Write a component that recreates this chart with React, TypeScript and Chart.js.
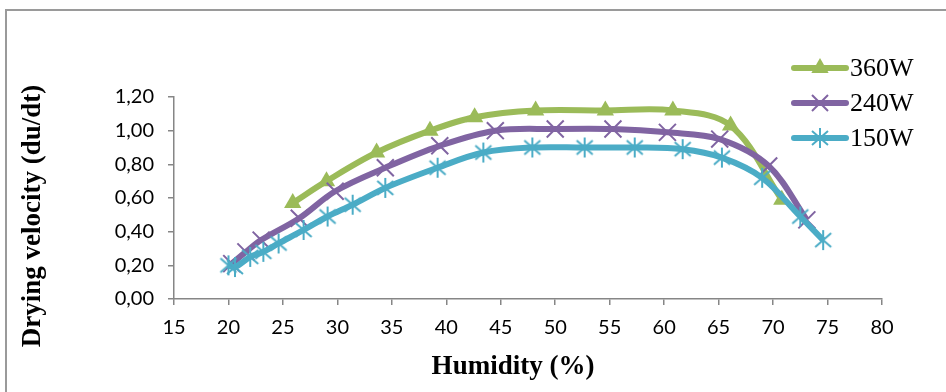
import React, { useEffect, useRef } from 'react';
import { Chart, registerables } from 'chart.js';
Chart.register(...registerables);

// Series: drying velocity vs humidity for three microwave powers
const seriesNames = ['360W', '240W', '150W'];

const humidity360 = [25.9, 29.0, 33.6, 38.5, 42.6, 48.2, 54.6, 60.8, 66.1, 70.8];
const velocity360 = [0.57, 0.70, 0.87, 1.00, 1.08, 1.12, 1.12, 1.12, 1.03, 0.59];

const humidity240 = [20.3, 21.6, 23.0, 26.5, 29.8, 34.4, 39.4, 44.5, 50.0, 55.3, 60.3, 65.1, 69.6, 73.1];
const velocity240 = [0.21, 0.28, 0.35, 0.48, 0.64, 0.78, 0.91, 1.00, 1.01, 1.01, 0.99, 0.95, 0.79, 0.47];

const humidity150 = [20.0, 20.6, 22.0, 23.2, 24.6, 26.9, 29.1, 31.4, 34.4, 39.2, 43.4, 47.9, 52.7, 57.3, 61.7, 65.3, 69.0, 72.5, 74.6];
const velocity150 = [0.20, 0.19, 0.25, 0.28, 0.33, 0.41, 0.49, 0.56, 0.66, 0.78, 0.87, 0.90, 0.90, 0.90, 0.89, 0.84, 0.72, 0.49, 0.35];

const xTitle = 'Humidity (%)';
const yTitle = 'Drying velocity (du/dt)';

const GREEN = '#9BBB59';
const PURPLE = '#8064A2';
const BLUE = '#4BACC6';
const AXIS = '#868686';

function makeAsterisk(color: string): HTMLCanvasElement {
  const c = document.createElement('canvas');
  c.width = 22;
  c.height = 22;
  const g = c.getContext('2d')!;
  g.strokeStyle = color;
  g.lineWidth = 2;
  g.beginPath();
  g.moveTo(11, 1); g.lineTo(11, 21);
  g.moveTo(3, 4); g.lineTo(19, 18);
  g.moveTo(19, 4); g.lineTo(3, 18);
  g.stroke();
  return c;
}

function toPts(xs: number[], ys: number[]) {
  return xs.map((x, i) => ({ x, y: ys[i] }));
}

export default function App() {
  const ref = useRef<HTMLCanvasElement>(null);

  useEffect(() => {
    const canvas = ref.current!;
    const asterisk = makeAsterisk(BLUE);

    const legendPlugin = {
      id: 'customLegendTitles',
      afterDraw(chart: any) {
        const ctx = chart.ctx as CanvasRenderingContext2D;
        ctx.save();
        // axis titles
        ctx.fillStyle = '#000';
        ctx.font = 'bold 27px "Liberation Serif"';
        ctx.textAlign = 'center';
        ctx.textBaseline = 'middle';
        ctx.fillText(xTitle, 513, 367);
        ctx.save();
        ctx.translate(33, 216);
        ctx.rotate(-Math.PI / 2);
        ctx.fillText(yTitle, 0, 0);
        ctx.restore();

        // legend
        const colors = [GREEN, PURPLE, BLUE];
        const ys = [68, 103, 138];
        ctx.font = '26px "Liberation Serif"';
        ctx.textAlign = 'left';
        for (let i = 0; i < 3; i++) {
          const y = ys[i];
          ctx.strokeStyle = colors[i];
          ctx.lineWidth = 6;
          ctx.lineCap = 'round';
          ctx.beginPath();
          ctx.moveTo(794, y);
          ctx.lineTo(846, y);
          ctx.stroke();
          const cx = 820;
          if (i === 0) {
            const r = 10;
            ctx.fillStyle = GREEN;
            ctx.beginPath();
            for (let k = 0; k < 3; k++) {
              const a = (k * 2 * Math.PI) / 3;
              const px = cx + Math.sin(a) * r;
              const py = y - Math.cos(a) * r;
              if (k === 0) ctx.moveTo(px, py); else ctx.lineTo(px, py);
            }
            ctx.closePath();
            ctx.fill();
          } else if (i === 1) {
            ctx.lineWidth = 2;
            ctx.lineCap = 'butt';
            ctx.strokeStyle = PURPLE;
            ctx.beginPath();
            ctx.moveTo(cx - 8, y - 8); ctx.lineTo(cx + 8, y + 8);
            ctx.moveTo(cx + 8, y - 8); ctx.lineTo(cx - 8, y + 8);
            ctx.stroke();
          } else {
            ctx.drawImage(asterisk, cx - 11, y - 11);
          }
          ctx.fillStyle = '#000';
          ctx.fillText(seriesNames[i], 850, y + 1);
        }
        ctx.restore();
      },
    };

    const tickFont = { family: 'Lato', size: 20 };

    const chart = new Chart(canvas, {
      type: 'line',
      data: {
        datasets: [
          {
            label: seriesNames[0],
            data: toPts(humidity360, velocity360),
            borderColor: GREEN,
            backgroundColor: GREEN,
            borderWidth: 6,
            tension: 0.35,
            pointStyle: 'triangle',
            pointRadius: 10,
            pointBorderWidth: 0,
            pointBackgroundColor: GREEN,
            pointBorderColor: GREEN,
            order: 3,
          },
          {
            label: seriesNames[1],
            data: toPts(humidity240, velocity240),
            borderColor: PURPLE,
            backgroundColor: PURPLE,
            borderWidth: 6,
            tension: 0.35,
            pointStyle: 'crossRot',
            pointRadius: 12,
            pointBorderWidth: 2,
            pointBorderColor: PURPLE,
            order: 2,
          },
          {
            label: seriesNames[2],
            data: toPts(humidity150, velocity150),
            borderColor: BLUE,
            backgroundColor: BLUE,
            borderWidth: 6,
            tension: 0.35,
            pointStyle: asterisk as any,
            pointRadius: 11,
            pointBorderWidth: 2,
            pointBorderColor: BLUE,
            order: 1,
          },
        ],
      },
      options: {
        animation: false,
        responsive: false,
        events: [],
        layout: { padding: { left: 0, right: 64, top: 97, bottom: 0 }, autoPadding: false },
        plugins: { legend: { display: false }, tooltip: { enabled: false }, title: { display: false } },
        scales: {
          x: {
            type: 'linear',
            min: 15,
            max: 80,
            ticks: { stepSize: 5, color: '#000', font: tickFont, padding: 11, maxRotation: 0 },
            grid: { drawOnChartArea: false, drawTicks: true, tickLength: 6, color: AXIS, lineWidth: 1.5 },
            border: { color: AXIS, width: 1.5 },
            afterFit: (s: any) => { s.height = 93; },
          },
          y: {
            type: 'linear',
            min: 0,
            max: 1.2,
            ticks: {
              stepSize: 0.2,
              color: '#000',
              font: tickFont,
              padding: 14,
              callback: (v: any) => Number(v).toFixed(2).replace('.', ','),
            },
            grid: { drawOnChartArea: false, drawTicks: true, tickLength: 6, color: AXIS, lineWidth: 1.5 },
            border: { color: AXIS, width: 1.5 },
            afterFit: (s: any) => { s.width = 174; },
          },
        },
      },
      plugins: [legendPlugin],
    });
    return () => chart.destroy();
  }, []);

  return (
    <div style={{ position: 'fixed', left: 0, top: 0, width: 946, height: 392, background: '#fff', overflow: 'hidden' }}>
      <div style={{ position: 'absolute', left: 5, top: 9, width: 1000, height: 500, border: '2px solid #9a9a9a', boxSizing: 'border-box' }} />
      <canvas ref={ref} width={946} height={392} style={{ position: 'absolute', left: 0, top: 0, display: 'block' }} />
    </div>
  );
}
